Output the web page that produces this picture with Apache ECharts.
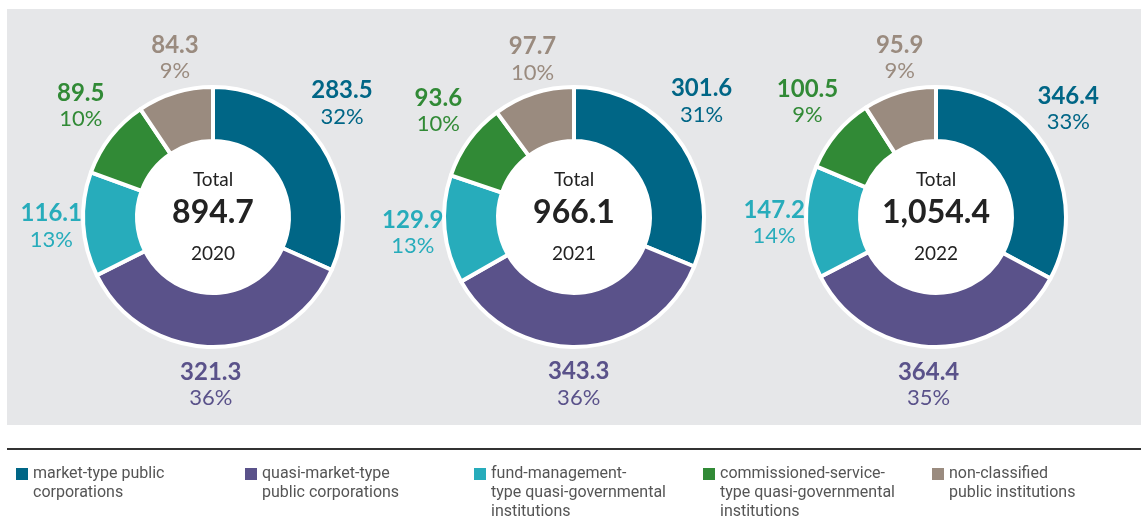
<!DOCTYPE html>
<html>
<head>
<meta charset="utf-8">
<script src="https://cdn.jsdelivr.net/npm/echarts@6/dist/echarts.min.js"></script>
<style>
  html, body { margin: 0; padding: 0; background: #fff; }
  #main { width: 1141px; height: 527px; }
</style>
</head>
<body>
<div id="main"></div>
<script>
// 数据
const years = ['2020', '2021', '2022'];
const categories = [
  'market-type public corporations',
  'quasi-market-type public corporations',
  'fund-management-type quasi-governmental institutions',
  'commissioned-service-type quasi-governmental institutions',
  'non-classified public institutions'
];
// 图例换行
const legendLines = [
  ['market-type public', 'corporations'],
  ['quasi-market-type', 'public corporations'],
  ['fund-management-', 'type quasi-governmental', 'institutions'],
  ['commissioned-service-', 'type quasi-governmental', 'institutions'],
  ['non-classified', 'public institutions']
];
const values2020 = [283.5, 321.3, 116.1, 89.5, 84.3];
const values2021 = [301.6, 343.3, 129.9, 93.6, 97.7];
const values2022 = [346.4, 364.4, 147.2, 100.5, 95.9];
const yearValues = [values2020, values2021, values2022];

const colors = ['#006686', '#5a528a', '#27acbb', '#318a36', '#9a8b7f'];
const fontFamily = 'Lato, "Noto Sans", sans-serif';

// 布局
const centers = [213, 574, 936];
const cy = 217;
// 标签微调
const labelOffsets = [[-12, -22], [-6, 0], [6, 0], [0, -7], [11, 2]];
const legendLeft = [16, 245, 474, 703, 932];
const legendIconTop = 468;
const legendLH = 19;
const legendIcon = 12;

function formatTotal(arr) {
  const s = arr.reduce((p, c) => p + c, 0);
  return Number(s.toFixed(1)).toLocaleString('en-US', { minimumFractionDigits: 1, maximumFractionDigits: 1 });
}

const series = [];
// 环形
yearValues.forEach((vals, i) => {
  series.push({
    type: 'pie',
    name: years[i],
    center: [centers[i], cy],
    radius: [76, 130],
    startAngle: 90,
    clockwise: true,
    silent: true,
    label: { show: false },
    labelLine: { show: false },
    itemStyle: { borderColor: '#ffffff', borderWidth: 4 },
    data: vals.map((v, k) => ({ name: categories[k], value: v, itemStyle: { color: colors[k] } }))
  });
});
// 标签环（透明）
yearValues.forEach((vals, i) => {
  series.push({
    type: 'pie',
    name: years[i] + '-label',
    center: [centers[i], cy],
    radius: [164, 166],
    startAngle: 90,
    clockwise: true,
    silent: true,
    percentPrecision: 0,
    labelLine: { show: false },
    itemStyle: { color: 'transparent', borderWidth: 0 },
    data: vals.map((v, k) => ({
      name: categories[k],
      value: v,
      label: {
        show: true,
        position: 'inside',
        offset: labelOffsets[k],
        formatter: '{v|{c}}\n{p|{d}%}',
        rich: {
          v: { color: colors[k], fontSize: 24, fontWeight: 'bold', fontFamily: fontFamily, lineHeight: 26 },
          p: { color: colors[k], fontSize: 22, fontFamily: fontFamily, lineHeight: 26 }
        }
      }
    }))
  });
});

// 图例：前面补空行，让第一行和色块对齐
const legends = categories.map((name, k) => {
  const n = legendLines[k].length;
  return {
    data: [name],
    left: legendLeft[k],
    top: legendIconTop - ((2 * n - 1) * legendLH / 2 - legendIcon / 2),
    padding: 0,
    icon: 'rect',
    itemWidth: legendIcon,
    itemHeight: legendIcon,
    itemStyle: { borderWidth: 0 },
    selectedMode: false,
    formatter: () => '\n'.repeat(n - 1) + legendLines[k].join('\n'),
    textStyle: {
      fontFamily: 'Roboto, sans-serif',
      fontSize: 16,
      color: '#555555',
      lineHeight: legendLH
    }
  };
});

const graphics = [
  { type: 'rect', shape: { x: 7, y: 9, width: 1134, height: 416 }, style: { fill: '#e6e7e9' } },
  { type: 'line', shape: { x1: 7, y1: 449, x2: 1141, y2: 449 }, style: { stroke: '#333333', lineWidth: 2 } }
];
centers.forEach((cx, i) => {
  graphics.push({ type: 'circle', shape: { cx: cx, cy: cy, r: 75 }, style: { fill: '#ffffff' } });
  graphics.push({
    type: 'text', x: cx, y: cy - 37, z: 10,
    style: { text: 'Total', align: 'center', verticalAlign: 'middle', fill: '#222', font: '19px ' + fontFamily }
  });
  graphics.push({
    type: 'text', x: cx, y: cy - 4, z: 10,
    style: { text: formatTotal(yearValues[i]), align: 'center', verticalAlign: 'middle', fill: '#222', font: 'bold 32px ' + fontFamily }
  });
  graphics.push({
    type: 'text', x: cx, y: cy + 37, z: 10,
    style: { text: years[i], align: 'center', verticalAlign: 'middle', fill: '#222', font: '19px ' + fontFamily }
  });
});

const chart = echarts.init(document.getElementById('main'), null, { renderer: 'canvas' });
chart.setOption({
  backgroundColor: '#ffffff',
  animation: false,
  graphic: graphics,
  legend: legends,
  series: series
});
</script>
</body>
</html>
